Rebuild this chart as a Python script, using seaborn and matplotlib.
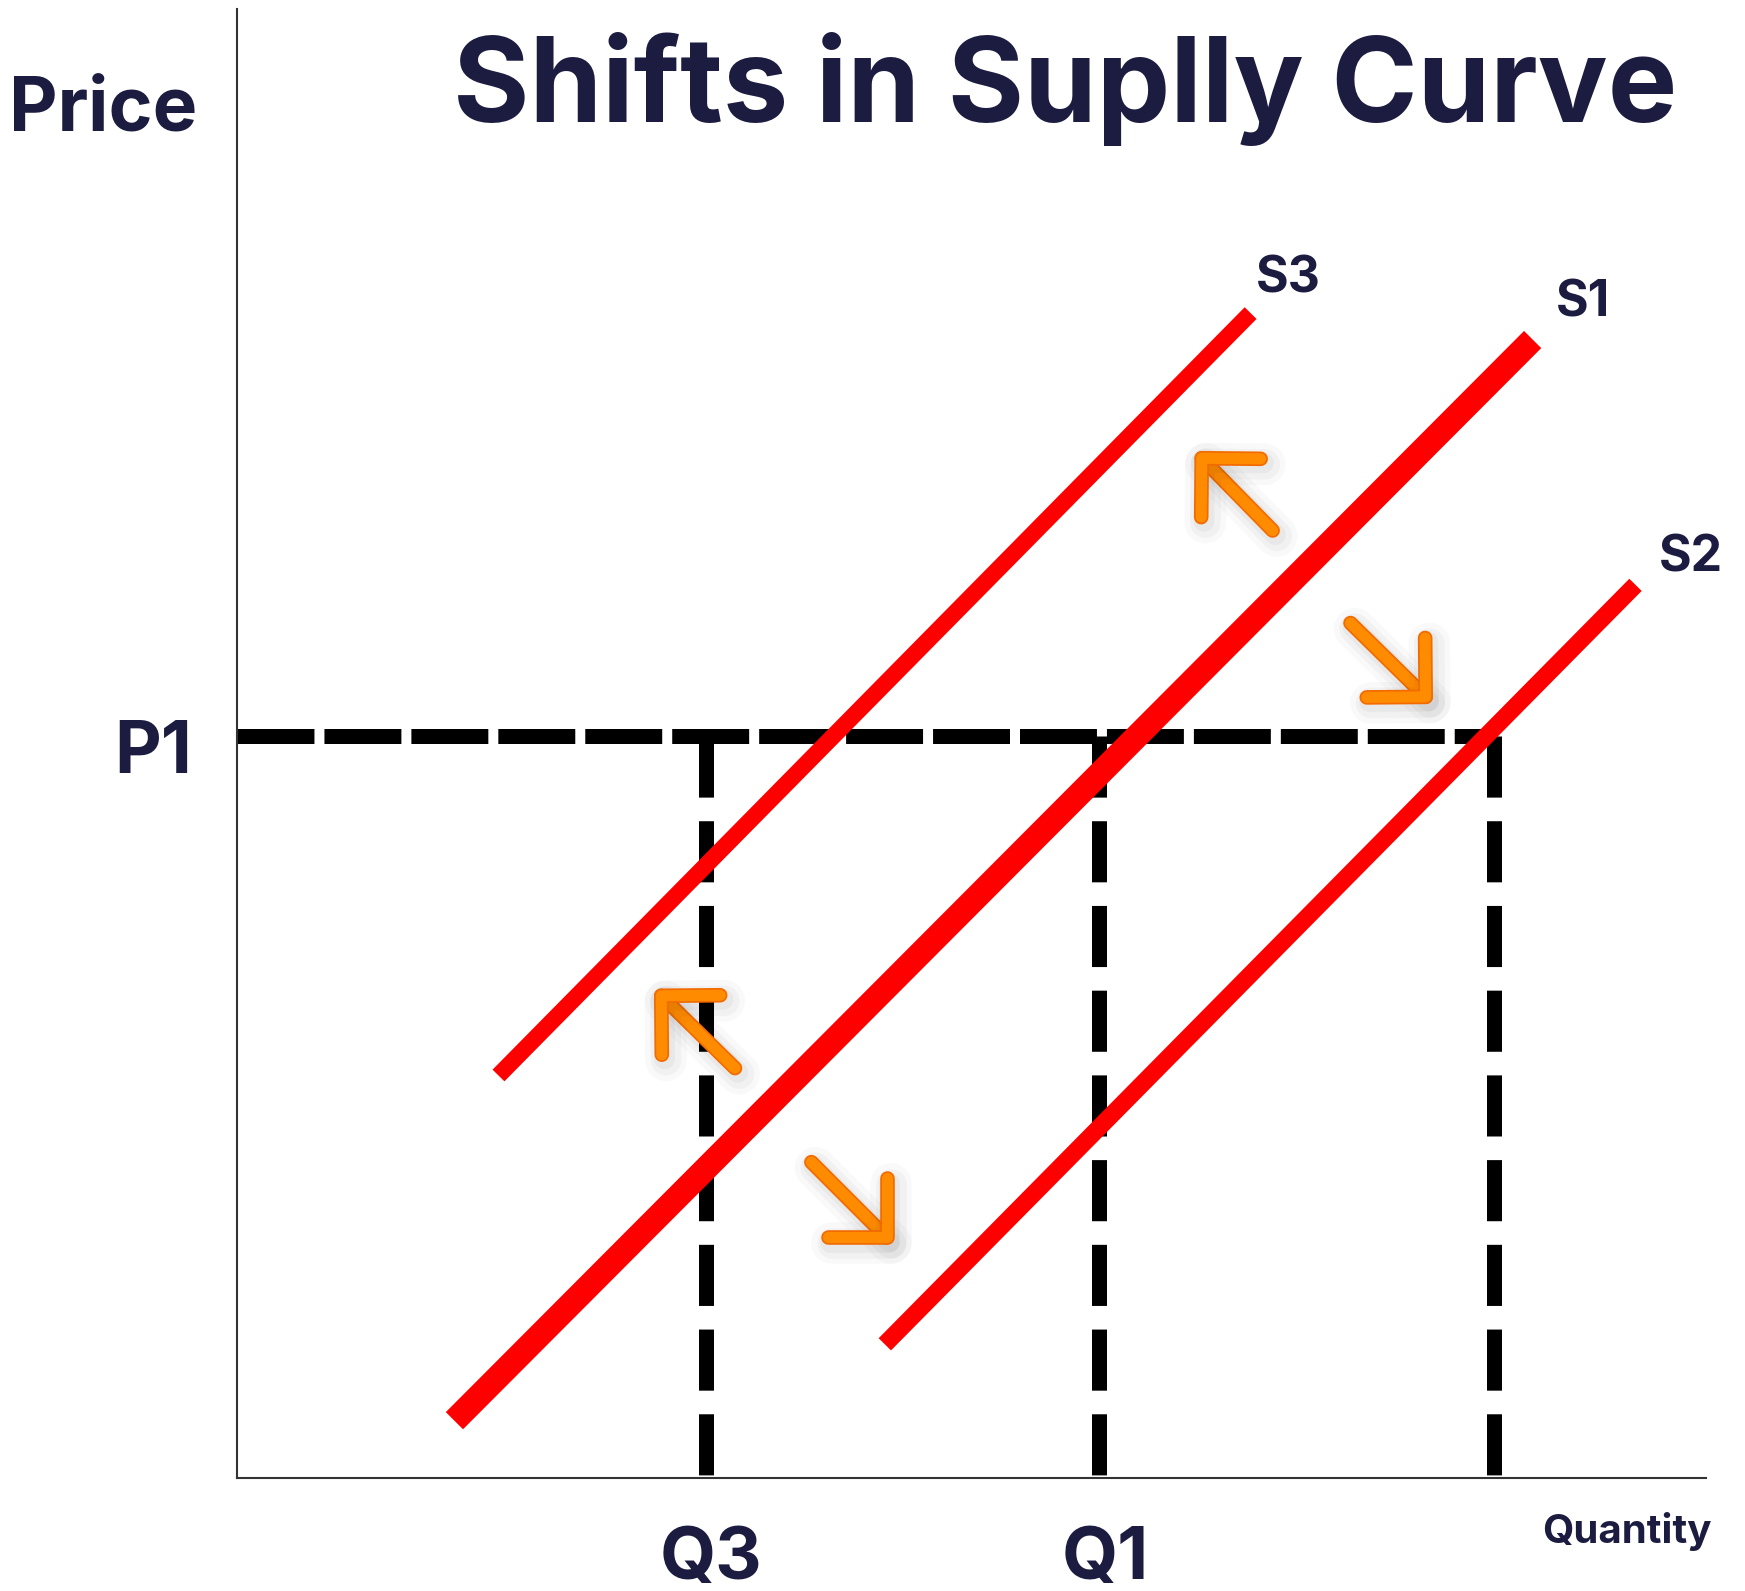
import numpy as np
import pandas as pd
import matplotlib
matplotlib.use("Agg")
import matplotlib.pyplot as plt
import matplotlib.patheffects as pe
from matplotlib.patches import FancyArrowPatch
import seaborn as sns

sns.set_theme(style="white")
plt.rcParams["font.family"] = ["Inter", "DejaVu Sans"]
plt.rcParams["lines.scale_dashes"] = False

# ---- data (axis units 0..10) ----
curve_names = ["S3", "S1", "S2"]
curve_x = {"S3": [1.78, 6.90], "S1": [1.48, 8.82], "S2": [4.41, 9.52]}
curve_y = {"S3": [2.74, 7.93], "S1": [0.39, 7.75], "S2": [0.91, 6.08]}
price_p1 = 5.05
q_levels = [3.19, 5.87, 8.56]          # Q3, Q1, Q2
q_labels = ["Q3", "Q1", ""]
# shift arrows: (tail_x, tail_y, tip_x, tip_y)
shift_arrows = [(7.05, 6.45, 6.53, 6.98), (7.58, 5.82, 8.13, 5.28),
                (3.39, 2.79, 2.85, 3.32), (3.91, 2.15, 4.46, 1.60)]

NAVY = "#1c1b40"
RED = "#ff0000"

fig = plt.figure(figsize=(17.45, 15.91), dpi=100)
ax = fig.add_axes([237/1745, 1-1478/1591, 1469/1745, 1469/1591])
ax.set_xlim(0, 10); ax.set_ylim(0, 10)
ax.set_xticks([]); ax.set_yticks([])
for s in ["top", "right"]:
    ax.spines[s].set_visible(False)
for s in ["left", "bottom"]:
    ax.spines[s].set_color("#333333"); ax.spines[s].set_linewidth(1.5)

# dashed guides
ax.plot([0, q_levels[-1]], [price_p1, price_p1], color="black", lw=10.8,
        dashes=(55.4, 7.2), zorder=2)
for q in q_levels:
    ax.plot([q, q], [price_p1, 0], color="black", lw=10.8,
            dashes=(44, 17), zorder=2)

# supply curves
df = pd.DataFrame({"curve": np.repeat(curve_names, 2),
                   "x": sum([curve_x[c] for c in curve_names], []),
                   "y": sum([curve_y[c] for c in curve_names], [])})
widths = {"S3": 12, "S1": 17.5, "S2": 12.5}
for c in curve_names:
    sns.lineplot(data=df[df.curve == c], x="x", y="y", sort=False, ax=ax,
                 color=RED, lw=widths[c], solid_capstyle="butt", zorder=3)
ax.set_xlabel(""); ax.set_ylabel("")

# arrows
for tx, ty, hx, hy in shift_arrows:
    arr = FancyArrowPatch((tx, ty), (hx, hy),
                          arrowstyle="->, head_length=30, head_width=30",
                          mutation_scale=1, lw=8, color="#ff8c00",
                          capstyle="round", joinstyle="round", zorder=4,
                          shrinkA=0, shrinkB=0)
    arr.set_path_effects([
        pe.SimpleLineShadow(offset=(3, -4), shadow_color="black", alpha=0.025, linewidth=30),
        pe.SimpleLineShadow(offset=(3, -4), shadow_color="black", alpha=0.03, linewidth=22),
        pe.SimpleLineShadow(offset=(2, -3), shadow_color="black", alpha=0.035, linewidth=15),
        pe.Stroke(linewidth=10.5, foreground="#f26a00"),
        pe.Normal()])
    ax.add_patch(arr)

# labels
kw = dict(color=NAVY, fontweight="bold", clip_on=False)
ax.text(7.16, 8.07, "S3", fontsize=36, ha="center", va="baseline", **kw)
ax.text(9.16, 7.91, "S1", fontsize=36, ha="center", va="baseline", **kw)
ax.text(9.90, 6.17, "S2", fontsize=36, ha="center", va="baseline", **kw)
ax.text(-0.57, 4.80, "P1", fontsize=52, ha="center", va="baseline", **kw)
for q, lab in zip(q_levels, q_labels):
    ax.text(q + 0.04, -0.69, lab, fontsize=52, ha="center", va="baseline", **kw)
ax.text(9.46, -0.44, "Quantity", fontsize=29, ha="center", va="baseline", **kw)
ax.text(-0.91, 9.17, "Price", fontsize=54, ha="center", va="baseline", **kw)
ax.text(5.64, 9.23, "Shifts in Suplly Curve", fontsize=84, ha="center",
        va="baseline", **kw)

fig.savefig("out.png", dpi=100)
